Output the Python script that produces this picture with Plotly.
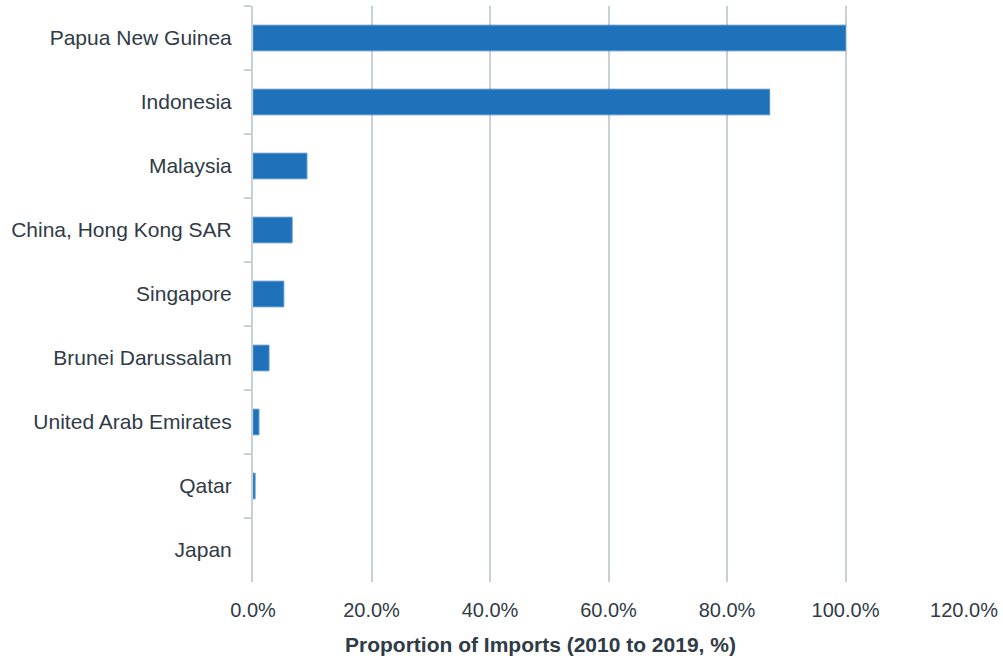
import plotly.graph_objects as go

countries = ["Papua New Guinea", "Indonesia", "Malaysia", "China, Hong Kong SAR",
             "Singapore", "Brunei Darussalam", "United Arab Emirates", "Qatar", "Japan"]
shares = [1.000, 0.872, 0.091, 0.066, 0.052, 0.027, 0.010, 0.0035, 0.0]
x_tick_vals = [0, 0.2, 0.4, 0.6, 0.8, 1.0, 1.2]
x_title = "Proportion of Imports (2010 to 2019, %)"

text_color = "#2f3b46"
grid_color = "#c8d0d7"

edge_widths = [1 if s > 0 else 0 for s in shares]

fig = go.Figure(go.Bar(
    y=countries, x=shares, orientation="h",
    marker=dict(color="#1f72b9", line=dict(color="#4a90cc", width=edge_widths)),
    width=0.4,
))

fig.update_layout(
    width=1003, height=662,
    margin=dict(l=253, r=39, t=6, b=80),
    paper_bgcolor="white", plot_bgcolor="white",
    font=dict(family="Liberation Sans, Arial, sans-serif", size=21, color=text_color),
    showlegend=False,
    bargap=0.6,
)
fig.update_xaxes(
    range=[0, 1.2], tickvals=x_tick_vals, tickformat=".1%",
    showgrid=True, gridcolor=grid_color, gridwidth=2,
    zeroline=False, showline=False, ticks="",
    ticklabelstandoff=14, automargin=False,
    tickfont=dict(size=20),
)
fig.update_yaxes(
    autorange="reversed", showgrid=False, zeroline=False,
    showline=True, linecolor=grid_color, linewidth=2,
    ticks="outside", tickson="boundaries", ticklen=7, tickcolor=grid_color, tickwidth=2,
    ticklabelstandoff=15, automargin=False,
)
# axis title, centred where the reference places it
fig.add_annotation(
    text="<b>" + x_title + "</b>", xref="paper", yref="paper",
    x=(540 - 253) / (964 - 253), y=-(644 - 582) / (582 - 6),
    xanchor="center", yanchor="middle", showarrow=False,
    font=dict(size=21, color=text_color),
)

fig.write_html("out.html", post_script="document.body.style.margin='0px';",
               config={"displayModeBar": False})
